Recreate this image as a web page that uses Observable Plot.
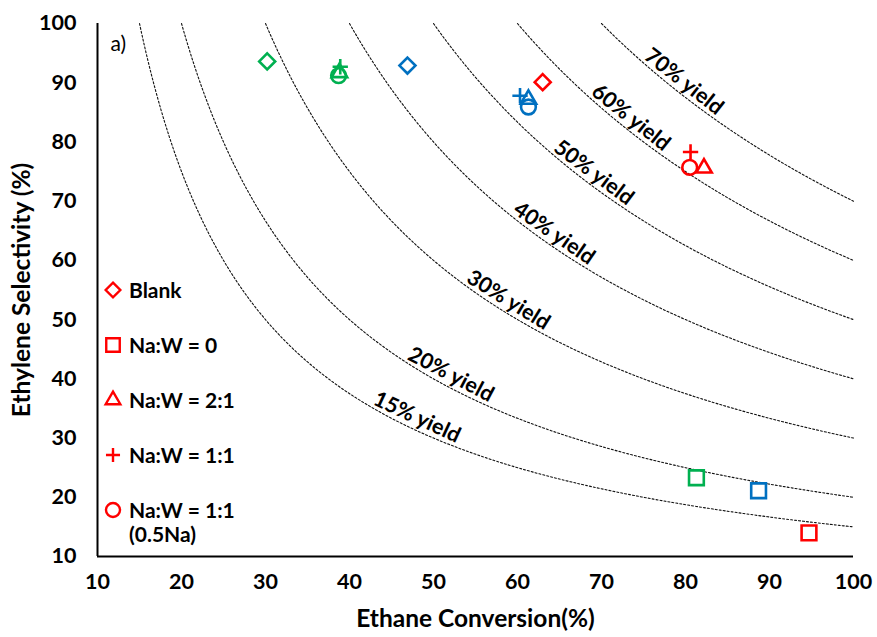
<!DOCTYPE html>
<html>
<head>
<meta charset="utf-8">
<script src="https://cdn.jsdelivr.net/npm/d3@7"></script>
<script src="https://cdn.jsdelivr.net/npm/@observablehq/plot@0.6"></script>
<style>
  body { margin: 0; background: #fff; }
  #wrap { position: relative; width: 877px; height: 637px; font-family: Lato, "Open Sans", sans-serif; }
  #wrap svg { display: block; }
  .leg { position: absolute; left: 105px; font-weight: bold; font-size: 21px; color: #000; line-height: 24px; }
  .leg .row { position: absolute; left: 0; white-space: nowrap; }
  .leg .row svg { position: absolute; left: 0; top: 4px; overflow: visible; }
  .leg .row span { position: absolute; left: 24px; top: 0; }
</style>
</head>
<body>
<div id="wrap"></div>
<script>
// ---- data ----
const treatments = ["Blank", "Na:W = 0", "Na:W = 2:1", "Na:W = 1:1", "Na:W = 1:1"];
const treatmentNote = ["", "", "", "", "(0.5Na)"];
const symbols = ["diamond2", "square2", "triangle2", "plus", "circle"];

const seriesNames = ["red", "blue", "green"];
const seriesColors = ["#FF0000", "#0070C0", "#00B050"];

const redX   = [63.0, 94.7, 82.2, 80.6, 80.5];
const redY   = [90.1, 14.0, 75.6, 78.3, 75.7];
const blueX  = [46.9, 88.7, 61.3, 60.3, 61.3];
const blueY  = [92.9, 21.1, 87.2, 87.8, 85.9];
const greenX = [30.2, 81.3, 38.8, 38.9, 38.7];
const greenY = [93.6, 23.3, 91.7, 92.7, 91.2];

const yieldLevels = [15, 20, 30, 40, 50, 60, 70];
const yieldLabelX = [47.7, 51.7, 58.5, 63.9, 68.6, 73.0, 79.3];

const xTicks = [10, 20, 30, 40, 50, 60, 70, 80, 90, 100];
const yTicks = [10, 20, 30, 40, 50, 60, 70, 80, 90, 100];
const xDomain = [10, 100];
const yDomain = [10, 100];

// ---- build ----
const W = 877, H = 637, mL = 97, mR = 24, mT = 23, mB = 81;
const kx = (W - mL - mR) / (xDomain[1] - xDomain[0]);
const ky = (H - mT - mB) / (yDomain[1] - yDomain[0]);

const allX = [redX, blueX, greenX], allY = [redY, blueY, greenY];
const points = [];
seriesNames.forEach((s, si) => {
  symbols.forEach((sym, i) => {
    points.push({series: s, color: seriesColors[si], symbol: sym, x: allX[si][i], y: allY[si][i]});
  });
});

const curves = yieldLevels.flatMap(Y => d3.range(0, 301).map(i => {
  const x = Y + (100 - Y) * i / 300;
  return {Y, x, y: Y * 100 / x};
}));

const labels = yieldLevels.map((Y, i) => {
  const x = yieldLabelX[i];
  const slope = Y * 100 / (x * x) * ky / kx;
  return {Y, x, y: Y * 100 / x, angle: Math.atan(slope) * 180 / Math.PI, text: `${Y}% yield`};
});

const symR = {diamond2: 7.2, square2: 9.4, triangle2: 7.4, plus: 5.0, circle: 7.4};

const plot = Plot.plot({
  width: W, height: H,
  marginLeft: mL, marginRight: mR, marginTop: mT, marginBottom: mB,
  style: {fontFamily: "Lato, 'Open Sans', sans-serif", background: "white", color: "black"},
  x: {domain: xDomain},
  y: {domain: yDomain},
  color: {type: "identity"},
  marks: [
    Plot.line(curves, {x: "x", y: "y", z: "Y", stroke: "#111", strokeWidth: 1.1, strokeDasharray: "2,2"}),
    Plot.text(labels, {x: "x", y: "y", text: "text", rotate: "angle", lineAnchor: "bottom", textAnchor: "middle",
      fontSize: 21.5, fontWeight: "bold", dy: -6}),
    ...symbols.map(sym => Plot.dot(points.filter(d => d.symbol === sym), {
      x: "x", y: "y", stroke: "color", symbol: sym, r: symR[sym], strokeWidth: 2.6, fill: "none"
    })),
    Plot.ruleX([xDomain[0]], {stroke: "black", strokeWidth: 2}),
    Plot.ruleY([yDomain[0]], {stroke: "black", strokeWidth: 2}),
    Plot.axisX(xTicks, {tickSize: 0, tickPadding: 17, fontSize: 21.5, fontWeight: "bold", label: null}),
    Plot.axisY(yTicks, {tickSize: 0, tickPadding: 21, fontSize: 21.5, fontWeight: "bold", label: null}),
    Plot.text(["Ethane Conversion(%)"], {frameAnchor: "bottom", lineAnchor: "middle", textAnchor: "middle", dy: 63, fontSize: 24.5, fontWeight: "bold"}),
    Plot.text(["Ethylene Selectivity (%)"], {frameAnchor: "left", lineAnchor: "middle", textAnchor: "middle", rotate: -90, dx: -75, fontSize: 24.5, fontWeight: "bold"}),
    Plot.text(["a)"], {frameAnchor: "top-left", dx: 13, dy: 13, fontSize: 21, textAnchor: "start"})
  ]
});

const wrap = document.getElementById("wrap");
wrap.appendChild(plot);

// legend (red symbols)
const leg = document.createElement("div");
leg.className = "leg";
leg.style.top = "0px";
const legR = {diamond2: 6.6, square2: 8.6, triangle2: 7.0, plus: 4.6, circle: 7.0};
const symMap = {diamond2: d3.symbolDiamond2, square2: d3.symbolSquare2, triangle2: d3.symbolTriangle2, plus: d3.symbolPlus, circle: d3.symbolCircle};
treatments.forEach((t, i) => {
  const row = document.createElement("div");
  row.className = "row";
  row.style.top = (290 - 12 + i * 55) + "px";
  const path = d3.symbol(symMap[symbols[i]], legR[symbols[i]] ** 2 * Math.PI)();
  row.innerHTML = `<svg width="16" height="16" viewBox="-8 -8 16 16"><path d="${path}" fill="none" stroke="${seriesColors[0]}" stroke-width="2.4"/></svg>` +
    `<span>${t}${treatmentNote[i] ? "<br>" + treatmentNote[i] : ""}</span>`;
  leg.appendChild(row);
});
wrap.appendChild(leg);
</script>
</body>
</html>
